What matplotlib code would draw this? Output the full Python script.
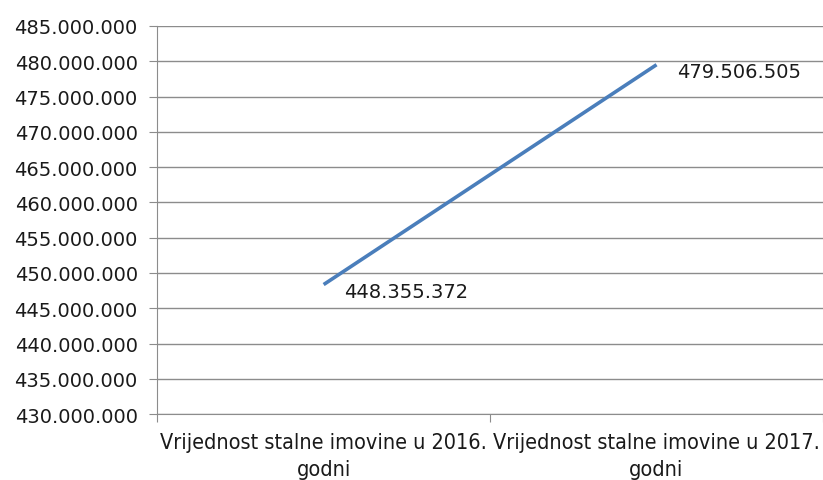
import matplotlib.pyplot as plt
from matplotlib import font_manager
from matplotlib.ticker import FuncFormatter

# data
categories = ["Vrijednost stalne imovine u 2016.\ngodni",
              "Vrijednost stalne imovine u 2017.\ngodni"]
values = [448355372, 479506505]
y_ticks = list(range(430000000, 485000001, 5000000))

names = {f.name for f in font_manager.fontManager.ttflist}
narrow = "Liberation Sans Narrow" if "Liberation Sans Narrow" in names else "DejaVu Sans"

fig = plt.figure(figsize=(8.23, 4.81), dpi=100)
ax = fig.add_axes([0.191, 0.137, 0.809, 0.807])

x = [0.5, 1.5]
ax.plot(x, values, color="#4A7EBB", linewidth=2.6, solid_capstyle="butt", zorder=3)

def dots(v):
    return f"{int(v):,}".replace(",", ".")

for xi, v in zip(x, values):
    ax.annotate(dots(v), (xi, v), xytext=(15, -5), textcoords="offset points",
                ha="left", va="center", fontsize=14, color="#1a1a1a")

ax.set_xlim(0, 2)
ax.set_ylim(430000000, 485000000)
ax.set_yticks(y_ticks)
ax.yaxis.set_major_formatter(FuncFormatter(lambda v, p: dots(v)))
ax.grid(axis="y", color="#8c8c8c", linewidth=1)
ax.set_axisbelow(True)

ax.set_xticks([0, 1, 2])
ax.set_xticklabels([])
ax.set_xticks(x, minor=True)
ax.set_xticklabels(categories, minor=True, fontsize=15.5, family=narrow,
                   fontstretch="condensed", color="#1a1a1a", linespacing=1.45)
ax.tick_params(axis="x", which="minor", length=0, pad=13)
ax.tick_params(axis="x", which="major", length=6, color="#8c8c8c")
ax.tick_params(axis="y", length=6, color="#8c8c8c", labelsize=14,
               labelcolor="#1a1a1a", pad=8)

for s in ["top", "right"]:
    ax.spines[s].set_visible(False)
ax.spines["left"].set_color("#8c8c8c")
ax.spines["bottom"].set_color("#8c8c8c")

fig.savefig("out.png", dpi=100)
